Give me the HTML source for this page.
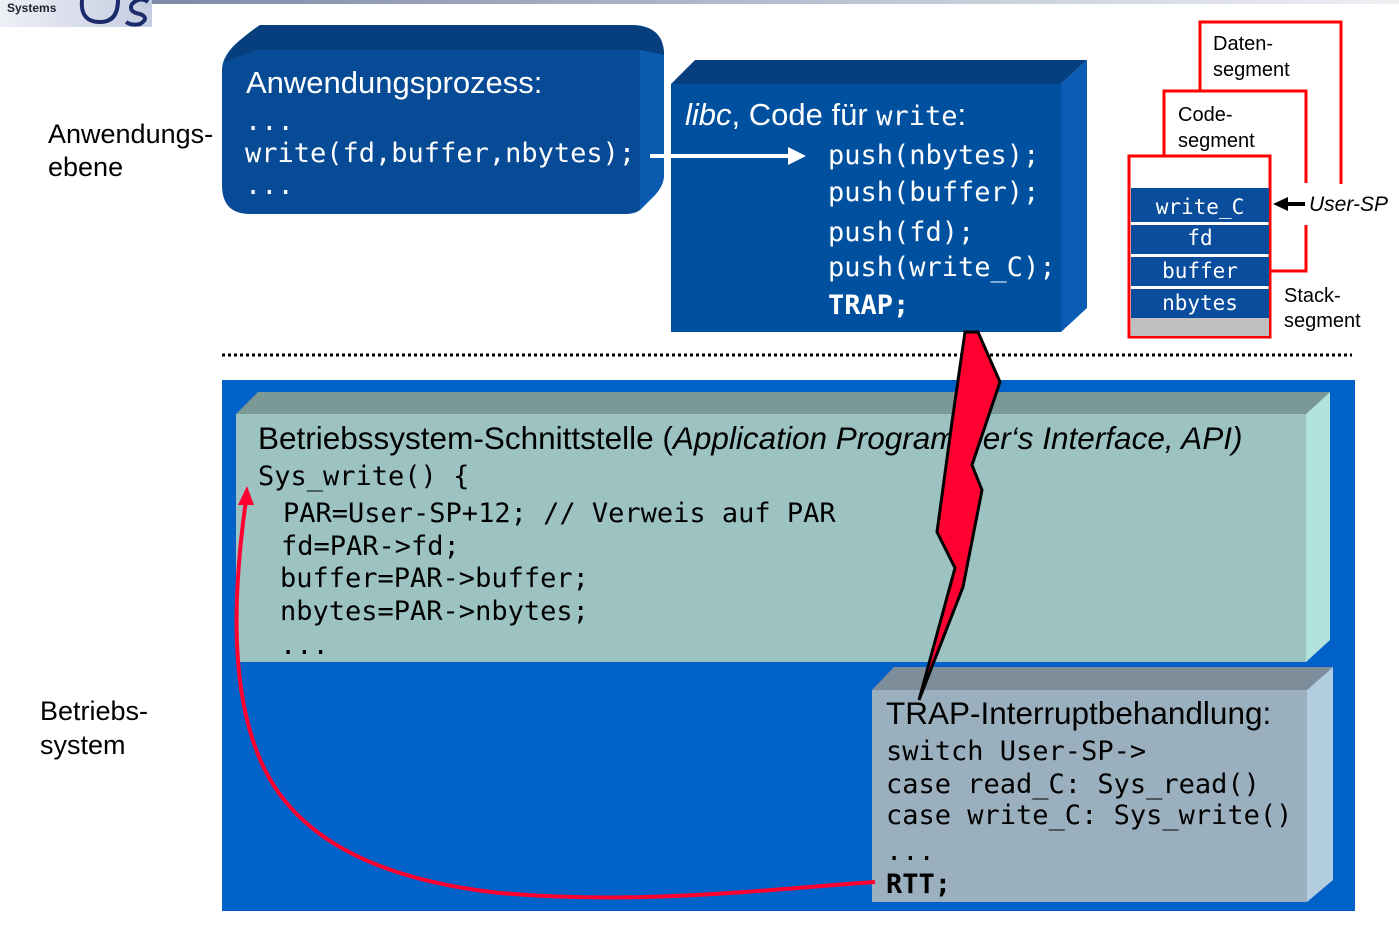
<!DOCTYPE html>
<html><head><meta charset="utf-8"><style>
html,body{margin:0;padding:0;background:#fff;}
svg{display:block;}
.s{font-family:"Liberation Sans",sans-serif;}
.m{font-family:"DejaVu Sans Mono","Liberation Mono",monospace;}
</style></head><body>
<svg width="1399" height="927" viewBox="0 0 1399 927" xmlns="http://www.w3.org/2000/svg">
<defs>
<linearGradient id="tb" x1="0" x2="1"><stop offset="0" stop-color="#7d8aa8"/><stop offset="1" stop-color="#eef0f4"/></linearGradient>
<linearGradient id="lg" x1="0" x2="1"><stop offset="0" stop-color="#eef0f6"/><stop offset="1" stop-color="#c4cce0"/></linearGradient>
</defs>
<rect x="150" y="0" width="1249" height="4" fill="url(#tb)"/>
<rect x="0" y="0" width="152" height="27" fill="url(#lg)"/>
<text x="7" y="12" class="s" font-size="12" font-weight="bold" fill="#223">Systems</text>
<path d="M82 0 Q80 22 100 22 Q118 22 118 0" fill="none" stroke="#1a2a6a" stroke-width="4"/>
<path d="M148 2 Q140 -4 132 4 Q128 12 140 14 Q150 18 140 24 Q132 26 126 22" fill="none" stroke="#1a2a6a" stroke-width="4"/>

<text class="s" font-size="27" fill="#000"><tspan x="48" y="143">Anwendungs-</tspan><tspan x="48" y="176">ebene</tspan></text>
<text class="s" font-size="27" fill="#000"><tspan x="40" y="720">Betriebs-</tspan><tspan x="40" y="754">system</tspan></text>

<path d="M260 25 H630 Q664 25 664 55 V175 Q664 185 655 195 L640 210 Q635 214 625 214 H250 Q222 214 222 185 V70 Q222 55 240 40 Z" fill="#074a96"/>
<path d="M260 25 H630 Q664 25 664 55 L640 50 H255 L225 62 Q230 45 260 25 Z" fill="#063e7e"/>
<path d="M664 55 V175 Q664 185 655 195 L640 210 V50 Z" fill="#0a5ab0"/>
<text x="246" y="93" class="s" font-size="31" fill="#fff">Anwendungsprozess:</text>
<text class="m" font-size="27" fill="#fff"><tspan x="245" y="130">...</tspan><tspan x="245" y="162">write(fd,buffer,nbytes);</tspan><tspan x="245" y="194">...</tspan></text>

<rect x="671" y="84" width="390" height="248" fill="#0050a0"/>
<polygon points="671,84 695,60 1087,60 1061,84" fill="#063f80"/>
<polygon points="1061,84 1087,60 1087,308 1061,332" fill="#0a5cb5"/>
<text x="685" y="125" class="s" font-size="31" fill="#fff"><tspan font-style="italic">libc</tspan>, Code für <tspan class="m" font-size="27">write</tspan>:</text>
<text class="m" font-size="27" fill="#fff"><tspan x="828" y="164">push(nbytes);</tspan><tspan x="828" y="201">push(buffer);</tspan><tspan x="828" y="241">push(fd);</tspan><tspan x="828" y="276">push(write_C);</tspan><tspan x="828" y="314" font-weight="bold">TRAP;</tspan></text>

<line x1="650" y1="156" x2="790" y2="156" stroke="#fff" stroke-width="4"/>
<polygon points="788,147 806,156 788,165" fill="#fff"/>

<polyline points="1200,90 1200,22 1341,22 1341,184" fill="none" stroke="#f00" stroke-width="3"/>
<polyline points="1164,156 1164,91 1306,91 1306,183" fill="none" stroke="#f00" stroke-width="3"/>
<polyline points="1306,225 1306,271 1270,271" fill="none" stroke="#f00" stroke-width="3"/>
<text class="s" font-size="20" fill="#000"><tspan x="1213" y="50">Daten-</tspan><tspan x="1213" y="76">segment</tspan></text>
<text class="s" font-size="20" fill="#000"><tspan x="1178" y="121">Code-</tspan><tspan x="1178" y="147">segment</tspan></text>
<rect x="1129" y="156" width="141" height="181" fill="#fff" stroke="#f00" stroke-width="3"/>
<rect x="1131" y="188" width="138" height="34" fill="#0a4d9c"/>
<rect x="1131" y="225" width="138" height="29" fill="#0a4d9c"/>
<rect x="1131" y="257" width="138" height="29" fill="#0a4d9c"/>
<rect x="1131" y="289" width="138" height="29" fill="#0a4d9c"/>
<rect x="1131" y="318" width="138" height="18" fill="#c0c0c0"/>
<text class="m" font-size="21" fill="#fff" text-anchor="middle"><tspan x="1200" y="214">write_C</tspan><tspan x="1200" y="245">fd</tspan><tspan x="1200" y="278">buffer</tspan><tspan x="1200" y="310">nbytes</tspan></text>
<line x1="1286" y1="204" x2="1305" y2="204" stroke="#000" stroke-width="4"/>
<polygon points="1273,204 1288,197 1288,211" fill="#000"/>
<text x="1309" y="211" class="s" font-size="21" font-style="italic" fill="#000">User-SP</text>
<text class="s" font-size="20" fill="#000"><tspan x="1284" y="302">Stack-</tspan><tspan x="1284" y="327">segment</tspan></text>

<line x1="222" y1="355" x2="1352" y2="355" stroke="#000" stroke-width="3" stroke-dasharray="3,3"/>

<rect x="222" y="380" width="1133" height="531" fill="#0062c8"/>
<rect x="236" y="414" width="1070" height="248" fill="#9cc2c2"/>
<polygon points="236,414 258,392 1330,392 1306,414" fill="#7a9896"/>
<polygon points="1306,414 1330,392 1330,640 1306,662" fill="#b2e2de"/>
<text x="258" y="449" class="s" font-size="31.5" fill="#000">Betriebssystem-Schnittstelle (<tspan font-style="italic">Application Programmer‘s Interface, API)</tspan></text>
<text class="m" font-size="27" fill="#000"><tspan x="258" y="485">Sys_write() {</tspan><tspan x="283" y="522">PAR=User-SP+12; // Verweis auf PAR</tspan><tspan x="281" y="555">fd=PAR-&gt;fd;</tspan><tspan x="280" y="587">buffer=PAR-&gt;buffer;</tspan><tspan x="280" y="620">nbytes=PAR-&gt;nbytes;</tspan><tspan x="280" y="654">...</tspan></text>

<rect x="872" y="690" width="435" height="212" fill="#9bb0be"/>
<polygon points="872,690 894,667 1333,667 1307,690" fill="#7d8e9a"/>
<polygon points="1307,690 1333,667 1333,880 1307,902" fill="#b2cde0"/>
<text x="886" y="724" class="s" font-size="31.5" fill="#000">TRAP-Interruptbehandlung:</text>
<text class="m" font-size="27" fill="#000"><tspan x="886" y="760">switch User-SP-&gt;</tspan><tspan x="886" y="793">case read_C: Sys_read()</tspan><tspan x="886" y="824">case write_C: Sys_write()</tspan><tspan x="886" y="860">...</tspan><tspan x="886" y="893" font-weight="bold">RTT;</tspan></text>

<polygon points="965,332 978,332 1000,382 972,465 982,490 963,587 919,700 955,568 945,548 937,532 952,422" fill="#ff0030" stroke="#000" stroke-width="3" stroke-linejoin="miter"/>

<path d="M875 882 C760 890 640 905 500 893 C380 880 300 840 265 770 C230 700 232 600 246 500" fill="none" stroke="#ff0030" stroke-width="4"/>
<polygon points="247,486 238,505 254,505" fill="#ff0030"/>
</svg>
</body></html>
